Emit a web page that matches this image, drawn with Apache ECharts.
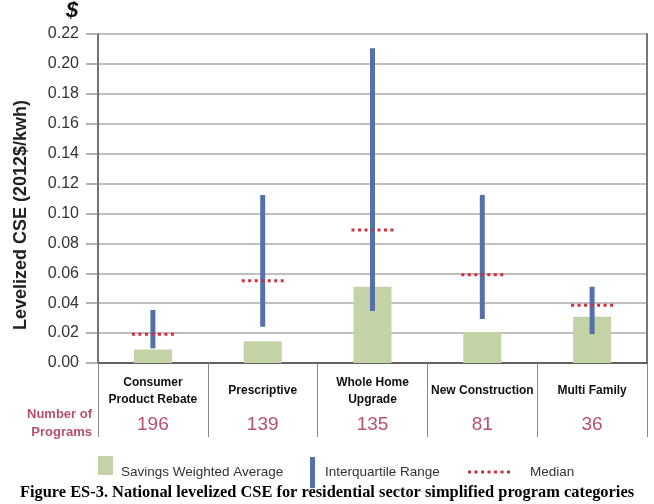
<!DOCTYPE html>
<html>
<head>
<meta charset="utf-8">
<script src="https://cdn.jsdelivr.net/npm/echarts@6/dist/echarts.min.js"></script>
<style>
  html, body { margin: 0; padding: 0; background: #fff; }
  #main { width: 654px; height: 504px; }
</style>
</head>
<body>
<div id="main"></div>
<script type="text/javascript">
var categories = ['Consumer\nProduct Rebate', 'Prescriptive', 'Whole Home\nUpgrade', 'New Construction', 'Multi Family'];
var programCounts = [196, 139, 135, 81, 36];
var weightedAvg = [0.009, 0.0145, 0.051, 0.0207, 0.031];
var iqrLow = [0.0098, 0.0243, 0.0348, 0.0294, 0.0194];
var iqrHigh = [0.0355, 0.1124, 0.2105, 0.1124, 0.051];
var medians = [0.0192, 0.055, 0.089, 0.059, 0.0386];

var sans = "'Liberation Sans', Arial, sans-serif";
var pink = '#b8506f';

// dotted icon for the median legend
var dots = 'path://';
for (var k = 0; k < 7; k++) {
    dots += 'M' + (k * 6.5) + ' 0h3v3h-3z';
}

var myChart = echarts.init(document.getElementById('main'));
var option = {
    animation: false,
    backgroundColor: '#fff',
    grid: { left: 98, right: 7, top: 34, bottom: 141 },
    legend: [
        {
            data: ['Savings Weighted Average'], left: 98, top: 456, padding: 0,
            itemWidth: 15, itemHeight: 19, icon: 'rect',
            formatter: '{t|{name}}',
            textStyle: {
                fontFamily: sans, fontSize: 13.5, color: '#333',
                rich: { t: { fontFamily: sans, fontSize: 13.5, color: '#333', lineHeight: 27, verticalAlign: 'bottom', padding: [0, 0, 0, 3] } }
            }
        },
        {
            data: ['Interquartile Range'], left: 310, top: 457, padding: 0,
            itemWidth: 5, itemHeight: 31, icon: 'rect',
            textStyle: { fontFamily: sans, fontSize: 13.5, color: '#333', padding: [0, 0, 0, 5] }
        },
        {
            data: ['Median'], left: 468, top: 465, padding: 0,
            itemWidth: 42, itemHeight: 3, icon: dots,
            textStyle: { fontFamily: sans, fontSize: 13.5, color: '#333', padding: [0, 0, 0, 15] }
        }
    ],
    xAxis: {
        type: 'category',
        data: categories,
        axisLine: { lineStyle: { color: '#444', width: 1.5 } },
        axisTick: { show: true, interval: 0, length: 74, lineStyle: { color: '#888', width: 1 } },
        axisLabel: {
            interval: 0,
            margin: 11,
            formatter: function (value, idx) {
                var parts = value.split('\n');
                var head;
                if (parts.length > 1) {
                    head = '{n|' + parts[0] + '}\n{n|' + parts[1] + '}';
                } else {
                    head = '{s|' + parts[0] + '}';
                }
                return head + '\n{c|' + programCounts[idx] + '}';
            },
            rich: {
                n: { fontFamily: sans, fontSize: 12, fontWeight: 'bold', color: '#111', lineHeight: 17, align: 'center' },
                s: { fontFamily: sans, fontSize: 12, fontWeight: 'bold', color: '#111', lineHeight: 34, align: 'center' },
                c: { fontFamily: sans, fontSize: 19, color: pink, lineHeight: 33, align: 'center' }
            }
        }
    },
    yAxis: [
        {
            type: 'value',
            min: 0,
            max: 0.22,
            interval: 0.02,
            axisLine: { show: true, lineStyle: { color: '#444', width: 1.5 } },
            axisTick: { show: true, length: 12, lineStyle: { color: '#999', width: 1.5 } },
            axisLabel: {
                margin: 19,
                fontFamily: sans,
                fontSize: 16,
                color: '#333',
                formatter: function (v) { return v.toFixed(2); }
            },
            splitLine: { lineStyle: { color: '#aaa', width: 1.5 } }
        },
        {
            type: 'value',
            position: 'right',
            min: 0,
            max: 0.22,
            axisLine: { show: true, lineStyle: { color: '#777', width: 2 } },
            axisTick: { show: false },
            axisLabel: { show: false },
            splitLine: { show: false }
        }
    ],
    series: [
        {
            name: 'Savings Weighted Average',
            type: 'bar',
            barWidth: 38,
            itemStyle: { color: '#c4d3a5' },
            data: weightedAvg,
            z: 2
        },
        {
            name: 'Interquartile Range',
            type: 'custom',
            itemStyle: { color: '#5670a8' },
            encode: { x: 0, y: [1, 2] },
            data: categories.map(function (c, i) { return [i, iqrLow[i], iqrHigh[i]]; }),
            renderItem: function (params, api) {
                var x = api.value(0);
                var lo = api.coord([x, api.value(1)]);
                var hi = api.coord([x, api.value(2)]);
                return {
                    type: 'rect',
                    shape: { x: lo[0] - 2.5, y: hi[1], width: 5, height: lo[1] - hi[1] },
                    style: { fill: api.visual('color') }
                };
            },
            z: 3
        },
        {
            name: 'Median',
            type: 'custom',
            itemStyle: { color: '#cf3040' },
            encode: { x: 0, y: 1 },
            data: categories.map(function (c, i) { return [i, medians[i]]; }),
            renderItem: function (params, api) {
                var p = api.coord([api.value(0), api.value(1)]);
                return {
                    type: 'line',
                    shape: { x1: p[0] - 21, y1: p[1], x2: p[0] + 22, y2: p[1] },
                    style: { stroke: api.visual('color'), lineWidth: 3, lineDash: [3, 3.5] }
                };
            },
            z: 4
        }
    ],
    graphic: [
        {
            type: 'text', left: 66, top: 0,
            style: { text: '$', font: "italic bold 22px " + sans, fill: '#111' }
        },
        {
            type: 'text', x: 21, y: 215, rotation: Math.PI / 2,
            style: {
                text: 'Levelized CSE (2012$/kwh)',
                font: "bold 18px " + sans,
                fill: '#222', align: 'center', verticalAlign: 'middle'
            }
        },
        {
            type: 'text', x: 92, y: 405,
            style: {
                text: 'Number of\nPrograms',
                font: "bold 13px " + sans,
                lineHeight: 18,
                fill: pink, align: 'right', verticalAlign: 'top'
            }
        },
        {
            type: 'text', x: 327, y: 493,
            style: {
                text: 'Figure ES-3. National levelized CSE for residential sector simplified program categories',
                font: "bold 16.4px 'Liberation Serif', 'Times New Roman', serif",
                fill: '#000', align: 'center', verticalAlign: 'middle'
            }
        }
    ]
};
myChart.setOption(option);
</script>
</body>
</html>
